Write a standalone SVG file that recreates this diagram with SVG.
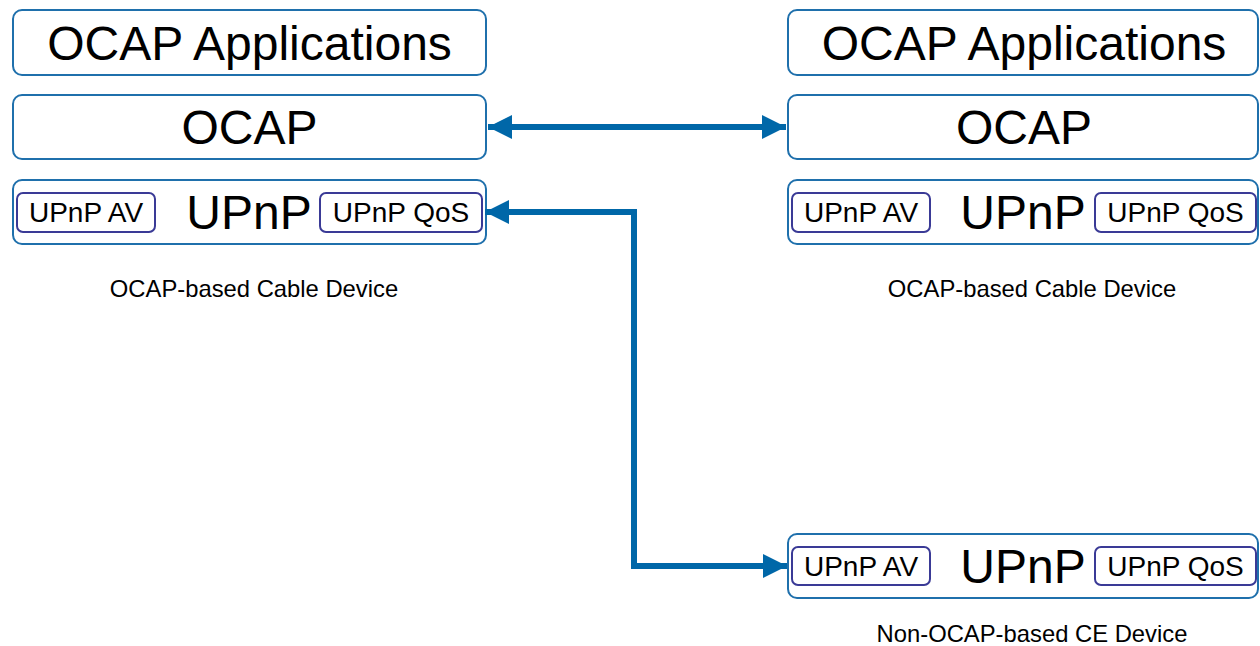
<svg xmlns="http://www.w3.org/2000/svg" width="1260" height="646" viewBox="0 0 1260 646">
<style>
.box{fill:#fff;stroke:#1f70ac;stroke-width:2}
.inner{fill:#fff;stroke:#3a3a96;stroke-width:2}
.t{font-family:"Liberation Sans",Arial,sans-serif;fill:#000;text-anchor:middle}
.big{font-size:48px}
.up{font-size:48px}
.sm{font-size:28px}
.cap{font-size:23.8px}
.conn{fill:none;stroke:#0067a8;stroke-width:6}
</style>
<defs>
<marker id="ah" viewBox="0 0 10 10" refX="10" refY="5" markerWidth="4.2" markerHeight="4" orient="auto-start-reverse" markerUnits="strokeWidth">
<path d="M0,0 L10,5 L0,10 z" fill="#0067a8"/>
</marker>
</defs>
<rect width="1260" height="646" fill="#fff"/>
<g id="left-apps"><rect class="box" x="13" y="10" width="473" height="65" rx="9"/><text class="t big" x="249.5" y="60">OCAP Applications</text></g>
<g id="left-ocap"><rect class="box" x="13" y="95" width="473" height="64" rx="9"/><text class="t big" x="249.5" y="144">OCAP</text></g>
<g id="left-upnp"><rect class="box" x="13" y="180" width="473" height="64" rx="9"/><text class="t up" x="249" y="229">UPnP</text>
<rect class="inner" x="17" y="193" width="138" height="39" rx="6"/><text class="t sm" x="86" y="222">UPnP AV</text>
<rect class="inner" x="320" y="193" width="162" height="39" rx="6"/><text class="t sm" x="401" y="222">UPnP QoS</text></g>
<g id="left-cap"><text class="t cap" x="254" y="297">OCAP-based Cable Device</text></g>
<g id="right-apps"><rect class="box" x="788" y="10" width="470" height="65" rx="9"/><text class="t big" x="1024" y="60">OCAP Applications</text></g>
<g id="right-ocap"><rect class="box" x="788" y="95" width="470" height="64" rx="9"/><text class="t big" x="1024" y="144">OCAP</text></g>
<g id="right-upnp"><rect class="box" x="788" y="180" width="470" height="64" rx="9"/><text class="t up" x="1023" y="229">UPnP</text>
<rect class="inner" x="792" y="193" width="138" height="39" rx="6"/><text class="t sm" x="861" y="222">UPnP AV</text>
<rect class="inner" x="1095" y="193" width="161" height="39" rx="6"/><text class="t sm" x="1175.5" y="222">UPnP QoS</text></g>
<g id="right-cap"><text class="t cap" x="1032" y="297">OCAP-based Cable Device</text></g>
<g id="ce-upnp"><rect class="box" x="788" y="534" width="470" height="64" rx="9"/><text class="t up" x="1023" y="583">UPnP</text>
<rect class="inner" x="792" y="547" width="138" height="38" rx="6"/><text class="t sm" x="861" y="576">UPnP AV</text>
<rect class="inner" x="1095" y="547" width="161" height="38" rx="6"/><text class="t sm" x="1175.5" y="576">UPnP QoS</text></g>
<g id="ce-cap"><text class="t cap" x="1032" y="642">Non-OCAP-based CE Device</text></g>
<g id="connectors">
<path class="conn" d="M488,127 L786,127" marker-start="url(#ah)" marker-end="url(#ah)"/>
<path class="conn" d="M485,212 L634,212 L634,566 L787,566" marker-start="url(#ah)" marker-end="url(#ah)"/>
</g>
</svg>
